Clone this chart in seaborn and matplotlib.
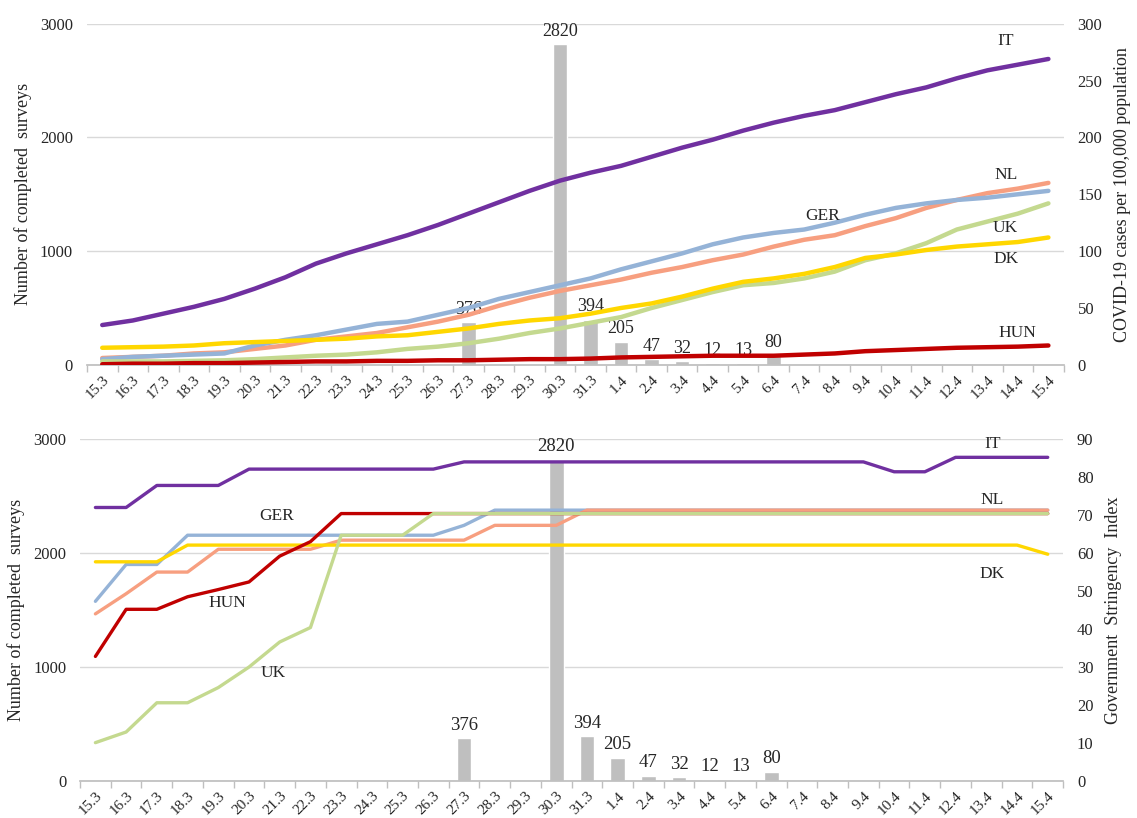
import matplotlib
matplotlib.use("Agg")
import matplotlib.pyplot as plt
import seaborn as sns
import pandas as pd
import numpy as np

sns.set_theme(style="white")
plt.rcParams['font.family'] = ['Liberation Serif', 'DejaVu Serif']

# Dates (15 March - 15 April)
dates = ['15.3', '16.3', '17.3', '18.3', '19.3', '20.3', '21.3', '22.3', '23.3', '24.3',
         '25.3', '26.3', '27.3', '28.3', '29.3', '30.3', '31.3', '1.4', '2.4', '3.4',
         '4.4', '5.4', '6.4', '7.4', '8.4', '9.4', '10.4', '11.4', '12.4', '13.4',
         '14.4', '15.4']

# Completed surveys per day
surveys = [0, 0, 0, 0, 0, 0, 0, 0, 0, 0, 0, 0, 376, 0, 0, 2820, 394, 205, 47, 32,
           12, 13, 80, 0, 0, 0, 0, 0, 0, 0, 0, 0]

# COVID-19 cases per 100,000 population
cases_it = [35, 39, 45, 51, 58, 67, 77, 89, 98, 106, 114, 123, 133, 143, 153, 162,
            169, 175, 183, 191, 198, 206, 213, 219, 224, 231, 238, 244, 252, 259, 264, 269]
cases_ger = [5, 7, 8, 9, 10, 17, 22, 26, 31, 36, 38, 44, 50, 58, 64, 70,
             76, 84, 91, 98, 106, 112, 116, 119, 125, 132, 138, 142, 145, 147, 150, 153]
cases_nl = [6, 7, 8, 10, 11, 14, 17, 22, 25, 28, 33, 38, 44, 52, 59, 65,
            70, 75, 81, 86, 92, 97, 104, 110, 114, 122, 129, 138, 145, 151, 155, 160]
cases_uk = [3, 3, 3, 3.5, 4, 5, 6.5, 8, 9, 11, 14, 16, 19, 23, 28, 32,
            37, 42, 50, 57, 64, 70, 72, 76, 82, 92, 98, 107, 119, 126, 133, 142]
cases_dk = [15, 15.5, 16, 17, 19, 20, 21, 22, 23, 25, 26, 29, 32, 36, 39, 41,
            45, 50, 54, 60, 67, 73, 76, 80, 86, 94, 97, 101, 104, 106, 108, 112]
cases_hun = [0.5, 1, 1, 1.5, 1.5, 2, 2.5, 3, 3, 3.5, 3.5, 4, 4, 4.5, 5, 5,
             5.5, 6.5, 7, 7.5, 8, 8, 8, 9, 10, 12, 13, 14, 15, 15.5, 16, 17]

# Government Stringency Index
gsi_it = [72, 72, 77.8, 77.8, 77.8, 82.1, 82.1, 82.1, 82.1, 82.1, 82.1, 82.1, 84, 84, 84, 84,
          84, 84, 84, 84, 84, 84, 84, 84, 84, 84, 81.4, 81.4, 85.2, 85.2, 85.2, 85.2]
gsi_ger = [47.3, 57, 57, 64.7, 64.7, 64.7, 64.7, 64.7, 64.7, 64.7, 64.7, 64.7, 67.3, 71.3, 71.3, 71.3,
           71.3, 71.3, 71.3, 71.3, 71.3, 71.3, 71.3, 71.3, 71.3, 71.3, 71.3, 71.3, 71.3, 71.3, 71.3, 71.3]
gsi_nl = [44, 49.3, 55, 55, 61, 61, 61, 61, 63.4, 63.4, 63.4, 63.4, 63.4, 67.3, 67.3, 67.3,
          71.3, 71.3, 71.3, 71.3, 71.3, 71.3, 71.3, 71.3, 71.3, 71.3, 71.3, 71.3, 71.3, 71.3, 71.3, 71.3]
gsi_uk = [10.1, 12.9, 20.6, 20.6, 24.6, 30, 36.6, 40.4, 64.7, 64.7, 64.7, 70.4, 70.4, 70.4, 70.4, 70.4,
          70.4, 70.4, 70.4, 70.4, 70.4, 70.4, 70.4, 70.4, 70.4, 70.4, 70.4, 70.4, 70.4, 70.4, 70.4, 70.4]
gsi_dk = [57.7, 57.7, 57.7, 62.1, 62.1, 62.1, 62.1, 62.1, 62.1, 62.1, 62.1, 62.1, 62.1, 62.1, 62.1, 62.1,
          62.1, 62.1, 62.1, 62.1, 62.1, 62.1, 62.1, 62.1, 62.1, 62.1, 62.1, 62.1, 62.1, 62.1, 62.1, 59.7]
gsi_hun = [32.8, 45.2, 45.2, 48.5, 50.4, 52.4, 59.2, 63, 70.4, 70.4, 70.4, 70.4, 70.4, 70.4, 70.4, 70.4,
           70.4, 70.4, 70.4, 70.4, 70.4, 70.4, 70.4, 70.4, 70.4, 70.4, 70.4, 70.4, 70.4, 70.4, 70.4, 70.4]

colors = {'IT': '#7030A0', 'GER': '#95B3D7', 'NL': '#F79F80', 'UK': '#C4D98F',
          'DK': '#FFD700', 'HUN': '#C00000'}
grid_c = '#D9D9D9'
text_c = '#262626'

x = np.arange(len(dates))


def style_panel(ax, ax2, right_ticks):
    ax.set_xlim(-0.5, len(dates) - 0.5)
    ax.set_ylim(0, 3000)
    ax.set_yticks([0, 1000, 2000, 3000])
    ax.yaxis.grid(True, color=grid_c, lw=1)
    ax.set_axisbelow(True)
    for s in ['top', 'left', 'right']:
        ax.spines[s].set_visible(False)
        ax2.spines[s].set_visible(False)
    ax.spines['bottom'].set_color('#BFBFBF')
    ax2.spines['bottom'].set_visible(False)
    ax.set_xticks(x)
    ax.set_xticklabels(dates, rotation=45, ha='right', rotation_mode='anchor',
                       fontsize=11, color=text_c)
    ax.set_xticks(np.arange(-0.5, len(dates), 1), minor=True)
    ax.tick_params(axis='x', which='major', length=0, pad=6)
    ax.tick_params(axis='x', which='minor', length=5, color='#BFBFBF', bottom=True)
    ax.tick_params(axis='y', length=0, labelsize=12, labelcolor=text_c, pad=10)
    ax2.tick_params(axis='y', length=0, labelsize=12, labelcolor=text_c, pad=10)
    ax2.set_yticks(right_ticks)
    ax2.set_ylim(0, right_ticks[-1])
    ax.set_xlabel('')
    ax.set_ylabel('Number of completed  surveys', fontsize=13, color=text_c, labelpad=6)


def draw_bars(ax, fs):
    df = pd.DataFrame({'date': dates, 'n': surveys})
    sns.barplot(data=df, x='date', y='n', order=dates, color='#BFBFBF',
                width=0.48, saturation=1, ax=ax)
    for i, v in enumerate(surveys):
        if v > 0:
            ax.text(i, v + 40, str(v), ha='center', va='bottom', fontsize=fs, color=text_c)


fig = plt.figure(figsize=(11.37, 8.18), dpi=100)

# ---------- Top panel: cases per 100,000 ----------
ax1 = fig.add_axes([0.0765, 0.554, 0.859, 0.417])
draw_bars(ax1, 13)
ax1b = ax1.twinx()
top_series = [('NL', cases_nl), ('GER', cases_ger), ('UK', cases_uk),
              ('DK', cases_dk), ('HUN', cases_hun), ('IT', cases_it)]
for name, vals in top_series:
    sns.lineplot(x=x, y=vals, color=colors[name], lw=3.2, ax=ax1b)
style_panel(ax1, ax1b, [0, 50, 100, 150, 200, 250, 300])
ax1b.set_ylabel('COVID-19 cases per 100,000 population', fontsize=13, color=text_c, labelpad=8)

top_labels = [('IT', 29.6, 285), ('NL', 29.6, 167), ('GER', 23.6, 131), ('UK', 29.6, 120),
              ('DK', 29.6, 93), ('HUN', 30.0, 28)]
for name, xi, yv in top_labels:
    ax1b.text(xi, yv, name, ha='center', va='center', fontsize=12.5, color=text_c)

# ---------- Bottom panel: stringency index ----------
ax2 = fig.add_axes([0.0704, 0.0452, 0.8646, 0.418])
draw_bars(ax2, 13.5)
ax2b = ax2.twinx()
bottom_series = [('GER', gsi_ger), ('NL', gsi_nl), ('DK', gsi_dk), ('HUN', gsi_hun),
                 ('UK', gsi_uk), ('IT', gsi_it)]
for name, vals in bottom_series:
    sns.lineplot(x=x, y=vals, color=colors[name], lw=2.4, ax=ax2b)
style_panel(ax2, ax2b, [0, 10, 20, 30, 40, 50, 60, 70, 80, 90])
ax2b.set_ylabel('Government  Stringency  Index', fontsize=13, color=text_c, labelpad=8)

bottom_labels = [('IT', 29.2, 88.8), ('NL', 29.2, 74.1), ('DK', 29.2, 54.5),
                 ('GER', 5.9, 69.8), ('HUN', 4.3, 46.9), ('UK', 5.8, 28.5)]
for name, xi, yv in bottom_labels:
    ax2b.text(xi, yv, name, ha='center', va='center', fontsize=12.5, color=text_c)

fig.savefig('out.png', dpi=100, facecolor='white')
